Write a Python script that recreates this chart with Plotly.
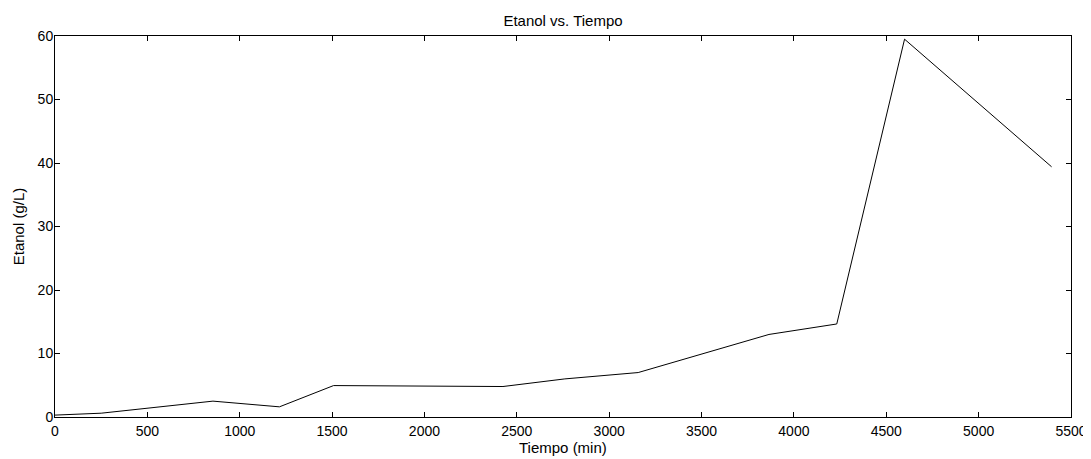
import plotly.graph_objects as go

tiempo = [0, 250, 855, 1215, 1508, 2425, 2760, 3157, 3865, 4232, 4599, 5395]
etanol = [0.3, 0.6, 2.5, 1.6, 4.95, 4.8, 6.0, 7.0, 13.0, 14.65, 59.5, 39.4]

x_ticks = [0, 500, 1000, 1500, 2000, 2500, 3000, 3500, 4000, 4500, 5000, 5500]
y_ticks = [0, 10, 20, 30, 40, 50, 60]

FAM = "Liberation Sans, Arial, sans-serif"
W, H = 1083, 451  # page body has an 8px margin

fig = go.Figure()
fig.add_trace(go.Scatter(x=tiempo, y=etanol, mode="lines",
                         line=dict(color="black", width=1), showlegend=False))

tick_font = dict(family=FAM, size=14, color="black")
title_font = dict(family=FAM, size=15, color="black")
axis_common = dict(showline=True, linecolor="black", linewidth=1, mirror="ticks",
                   ticks="inside", ticklen=5, tickcolor="black", tickwidth=1,
                   showgrid=False, zeroline=False, tickfont=tick_font, automargin=False)

fig.update_layout(
    width=W, height=H,
    margin=dict(l=47, r=20, t=28, b=42),
    paper_bgcolor="white", plot_bgcolor="white",
    title=dict(text="Etanol vs. Tiempo", x=0.5, xref="paper", xanchor="center",
               y=1 - 13 / H, yref="container", yanchor="middle", font=title_font),
    xaxis=dict(range=[0, 5500], tickvals=x_ticks, ticklabelstandoff=1, **axis_common),
    yaxis=dict(range=[0, 60], tickvals=y_ticks, ticklabelstandoff=-2,
               title=dict(text="Etanol (g/L)", standoff=9, font=title_font),
               **axis_common),
    annotations=[dict(text="Tiempo (min)", x=0.5, xref="paper", y=0, yref="paper",
                      yshift=-30, yanchor="middle", xanchor="center", borderpad=0,
                      showarrow=False, font=title_font)],
)

fig.write_html("out.html")
